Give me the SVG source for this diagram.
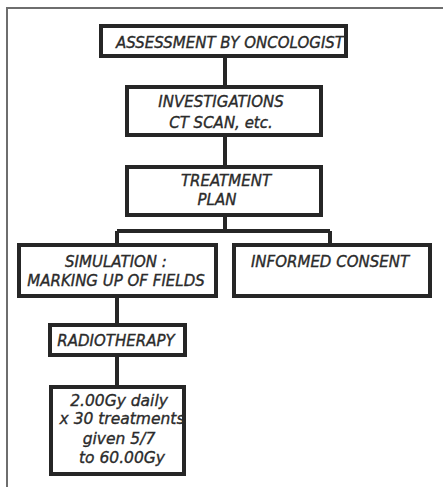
<svg xmlns="http://www.w3.org/2000/svg" width="443" height="487" viewBox="0 0 443 487">
<style>
.box{fill:#fff;stroke:#262626;stroke-width:4}
.t{font-family:"DejaVu Sans",Verdana,sans-serif;font-style:italic;font-size:15px;fill:#2b2b2b;stroke:#2b2b2b;stroke-width:0.35;text-anchor:middle}
.b{font-size:15.5px}
.c{fill:none;stroke:#262626;stroke-width:4}
</style>
<rect x="0" y="0" width="443" height="487" fill="#fff"/>
<path d="M7 487V8H443" fill="none" stroke="#6e6e6e" stroke-width="2"/>
<g id="connectors">
<path class="c" d="M225 58V85M225 137V165M225 217V231M117 231H330M117 231V243M330 231V243M117 298V323M117 357V385"/>
</g>
<g id="assessment">
<rect class="box" x="101" y="26" width="245" height="30"/>
<text class="t" x="230" y="48">ASSESSMENT BY ONCOLOGIST</text>
</g>
<g id="investigations">
<rect class="box" x="127" y="87" width="194" height="48"/>
<text class="t" x="221" y="107">INVESTIGATIONS</text>
<text class="t" x="221" y="128">CT SCAN, etc.</text>
</g>
<g id="treatment-plan">
<rect class="box" x="127" y="167" width="194" height="48"/>
<text class="t" x="226" y="186">TREATMENT</text>
<text class="t" x="217" y="205">PLAN</text>
</g>
<g id="simulation">
<rect class="box" x="19" y="245" width="197" height="51"/>
<text class="t" x="116" y="267">SIMULATION :</text>
<text class="t" x="116" y="286">MARKING UP OF FIELDS</text>
</g>
<g id="informed-consent">
<rect class="box" x="234" y="245" width="196" height="51"/>
<text class="t" x="330" y="267">INFORMED CONSENT</text>
</g>
<g id="radiotherapy">
<rect class="box" x="50" y="325" width="135" height="30"/>
<text class="t" x="116" y="346">RADIOTHERAPY</text>
</g>
<g id="dose">
<rect class="box" x="51" y="387" width="133" height="87"/>
<text class="t b" x="119" y="406">2.00Gy daily</text>
<text class="t b" x="122" y="424">x 30 treatments</text>
<text class="t b" x="119" y="444">given 5/7</text>
<text class="t b" x="122" y="463">to 60.00Gy</text>
</g>
</svg>
